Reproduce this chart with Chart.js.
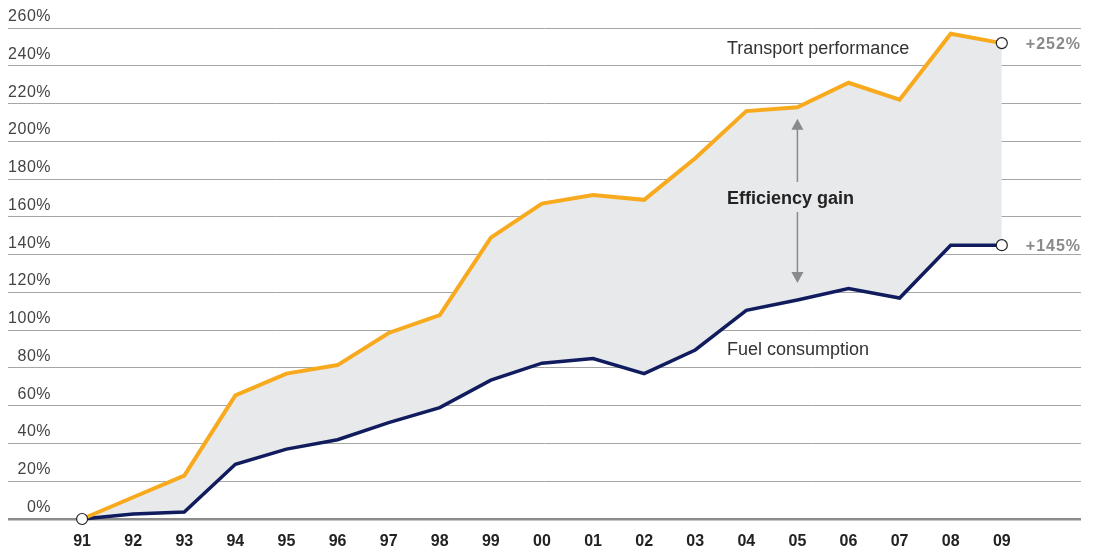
<!DOCTYPE html>
<html>
<head>
<meta charset="utf-8">
<script src="https://cdn.jsdelivr.net/npm/chart.js@4/dist/chart.umd.min.js"></script>
<style>
  html, body { margin: 0; padding: 0; background: #fff; }
  #wrap { width: 1094px; height: 549px; position: relative; }
</style>
</head>
<body>
<div id="wrap"><canvas id="efficiencyChart"></canvas></div>
<script>
// years on the x axis
const years = ['91', '92', '93', '94', '95', '96', '97', '98', '99', '00',
               '01', '02', '03', '04', '05', '06', '07', '08', '09'];
// change vs 1991, in %
const transport = [0, 11.5, 23, 65.5, 77, 81.5, 98.5, 108, 149, 167,
                   171.5, 169, 191, 216, 218, 231, 222, 257, 252];
const fuel = [0, 2.6, 3.7, 29, 37, 42, 51, 59, 73.5, 82.5,
              85, 77, 89.5, 110.5, 116, 122, 117, 145, 145];
const yTicks = [0, 20, 40, 60, 80, 100, 120, 140, 160, 180, 200, 220, 240, 260];

const FONT = "'Liberation Sans', Arial, Helvetica, sans-serif";
const last = years.length - 1;

// y labels sit above their grid line, plus the text notes and the arrow
const notesPlugin = {
    id: 'notes',
    afterDraw(chart) {
        const c = chart.ctx;
        const x = chart.scales.x;
        const y = chart.scales.y;
        c.save();

        // y tick labels
        c.font = '16px ' + FONT;
        c.fillStyle = '#444';
        c.textAlign = 'right';
        c.textBaseline = 'alphabetic';
        c.letterSpacing = '0.5px';
        yTicks.forEach(v => {
            c.fillText(v + '%', 51, y.getPixelForValue(v) - 7);
        });

        // end values
        c.font = 'bold 16px ' + FONT;
        c.fillStyle = '#8a8a8a';
        c.textAlign = 'left';
        c.textBaseline = 'middle';
        c.letterSpacing = '1px';
        c.fillText('+' + transport[last] + '%', x.getPixelForValue(last) + 24, y.getPixelForValue(transport[last]) + 1);
        c.fillText('+' + fuel[last] + '%', x.getPixelForValue(last) + 24, y.getPixelForValue(fuel[last]) + 1);
        c.letterSpacing = '0px';

        // series names
        c.font = '18px ' + FONT;
        c.fillStyle = '#333';
        c.fillText('Transport performance', x.getPixelForValue(12.62), y.getPixelForValue(249));
        c.fillText('Fuel consumption', x.getPixelForValue(12.62), y.getPixelForValue(89.5));

        // efficiency gain
        const ax = x.getPixelForValue(14);
        c.font = 'bold 18px ' + FONT;
        c.fillStyle = '#222';
        c.textAlign = 'center';
        c.fillText('Efficiency gain', ax - 7, y.getPixelForValue(169.5));

        c.strokeStyle = '#8a8a8a';
        c.fillStyle = '#8a8a8a';
        c.lineWidth = 1.5;
        const top = y.getPixelForValue(212);
        const bot = y.getPixelForValue(125);
        c.beginPath();
        c.moveTo(ax, top + 8);
        c.lineTo(ax, y.getPixelForValue(170) - 16);
        c.moveTo(ax, y.getPixelForValue(170) + 14);
        c.lineTo(ax, bot - 8);
        c.stroke();
        c.beginPath();
        c.moveTo(ax, top);
        c.lineTo(ax - 6, top + 11);
        c.lineTo(ax + 6, top + 11);
        c.closePath();
        c.fill();
        c.beginPath();
        c.moveTo(ax, bot);
        c.lineTo(ax - 6, bot - 11);
        c.lineTo(ax + 6, bot - 11);
        c.closePath();
        c.fill();

        c.restore();
    }
};

function pts(arr) {
    return arr.map((v, i) => ({ x: i, y: v }));
}

const ctx = document.getElementById('efficiencyChart').getContext('2d');
const chart = new Chart(ctx, {
    type: 'line',
    data: {
        datasets: [{
            label: 'Transport performance',
            data: pts(transport),
            borderColor: '#f8aa1f',
            backgroundColor: '#e8e9eb',
            borderWidth: 4,
            fill: 1,
            tension: 0,
            clip: false,
            pointRadius: c => (c.dataIndex === 0 || c.dataIndex === last) ? 5.5 : 0,
            pointBackgroundColor: '#fff',
            pointBorderColor: '#222',
            pointBorderWidth: 1.2
        }, {
            label: 'Fuel consumption',
            data: pts(fuel),
            borderColor: '#101c5e',
            borderWidth: 3.5,
            fill: false,
            tension: 0,
            clip: false,
            pointRadius: c => c.dataIndex === last ? 5.5 : 0,
            pointBackgroundColor: '#fff',
            pointBorderColor: '#222',
            pointBorderWidth: 1.2
        }]
    },
    options: {
        responsive: true,
        maintainAspectRatio: false,
        animation: false,
        layout: { padding: { left: 8, right: 13, top: 28, bottom: 0 } },
        plugins: {
            legend: { display: false },
            tooltip: { enabled: false },
            filler: { drawTime: 'beforeDatasetsDraw' }
        },
        scales: {
            x: {
                type: 'linear',
                min: -1.45,
                max: 19.55,
                afterBuildTicks: s => { s.ticks = years.map((_, i) => ({ value: i })); },
                afterFit: s => { s.height = 30; },
                ticks: {
                    callback: (v) => years[v] ?? '',
                    color: '#222',
                    font: { family: FONT, size: 16, weight: 'bold' },
                    padding: 13,
                    maxRotation: 0,
                    autoSkip: false
                },
                grid: { display: false, drawTicks: false },
                border: { display: false }
            },
            y: {
                min: 0,
                max: 260,
                afterBuildTicks: s => { s.ticks = yTicks.map(v => ({ value: v })); },
                ticks: { display: false },
                grid: {
                    drawTicks: false,
                    color: c => c.tick && c.tick.value === 0 ? '#8c8c8c' : '#a6a6a6',
                    lineWidth: c => c.tick && c.tick.value === 0 ? 2.5 : 1
                },
                border: { display: false }
            }
        }
    },
    plugins: [notesPlugin]
});
</script>
</body>
</html>
